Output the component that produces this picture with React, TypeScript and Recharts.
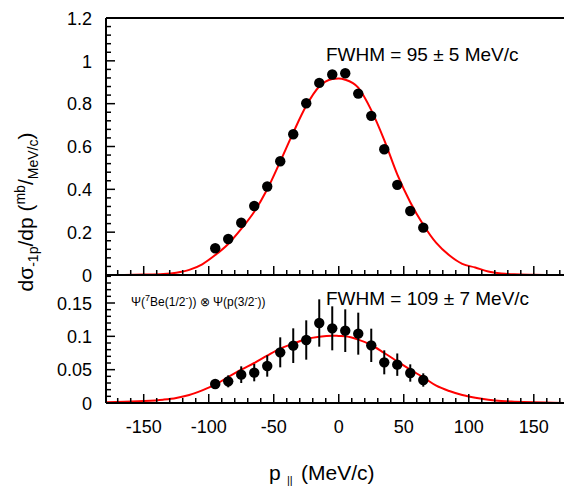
import React from "react";
import { ComposedChart, Line, Scatter, ErrorBar, XAxis, YAxis, ReferenceLine } from "recharts";

// measured momentum points (MeV/c)
const pointX = [-95, -85, -75, -65, -55, -45, -35, -25, -15, -5, 5, 15, 25, 35, 45, 55, 65];
const topValues = [0.125, 0.168, 0.244, 0.322, 0.413, 0.531, 0.657, 0.802, 0.897, 0.936, 0.942, 0.847, 0.743, 0.587, 0.421, 0.299, 0.221];
const bottomValues = [0.0285, 0.0325, 0.0425, 0.0455, 0.0555, 0.076, 0.086, 0.0945, 0.12, 0.112, 0.1085, 0.104, 0.0865, 0.061, 0.0575, 0.045, 0.0345];
const bottomErrors = [0.0075, 0.009, 0.0125, 0.013, 0.016, 0.0225, 0.026, 0.0295, 0.0355, 0.033, 0.032, 0.0315, 0.025, 0.018, 0.0168, 0.013, 0.01];

// calculated curves
const fitX = [-179, -165, -150, -135, -125, -115, -105, -95, -85, -75, -65, -55, -45, -35, -25, -15, -5, 0, 5, 15, 25, 35, 45, 55, 65, 75, 85, 95, 105, 115, 125, 135, 150, 165, 174];
const topFit = [0, 0.0005, 0.002, 0.005, 0.011, 0.024, 0.05, 0.093, 0.145, 0.215, 0.295, 0.4, 0.53, 0.665, 0.79, 0.88, 0.915, 0.918, 0.912, 0.875, 0.77, 0.63, 0.47, 0.34, 0.235, 0.15, 0.092, 0.052, 0.035, 0.016, 0.007, 0.003, 0.001, 0, 0];
const bottomFit = [0.001, 0.002, 0.003, 0.005, 0.0075, 0.012, 0.019, 0.0275, 0.039, 0.05, 0.06, 0.071, 0.0815, 0.089, 0.096, 0.0995, 0.101, 0.1005, 0.1, 0.095, 0.087, 0.075, 0.0625, 0.05, 0.0385, 0.026, 0.018, 0.012, 0.008, 0.005, 0.003, 0.002, 0.001, 0.0005, 0];

const xMajor = [-150, -100, -50, 0, 50, 100, 150];
const xMinor = [-170, -160, -140, -130, -120, -110, -90, -80, -70, -60, -40, -30, -20, -10, 10, 20, 30, 40, 60, 70, 80, 90, 110, 120, 130, 140, 160, 170];
const topYMajor = [0, 0.2, 0.4, 0.6, 0.8, 1, 1.2];
const topYMinor = [0.04, 0.08, 0.12, 0.16, 0.24, 0.28, 0.32, 0.36, 0.44, 0.48, 0.52, 0.56, 0.64, 0.68, 0.72, 0.76, 0.84, 0.88, 0.92, 0.96, 1.04, 1.08, 1.12, 1.16];
const botYMajor = [0, 0.05, 0.1, 0.15];
const botYMinor = [0.01, 0.02, 0.03, 0.04, 0.06, 0.07, 0.08, 0.09, 0.11, 0.12, 0.13, 0.14, 0.16, 0.17, 0.18, 0.19];

const topPoints = pointX.map((x, i) => ({ x, y: topValues[i] }));
const bottomPoints = pointX.map((x, i) => ({ x, y: bottomValues[i], err: bottomErrors[i] }));
const topCurve = fitX.map((x, i) => ({ x, y: topFit[i] }));
const bottomCurve = fitX.map((x, i) => ({ x, y: bottomFit[i] }));

const sorted = (a: number[], b: number[]) => [...a, ...b].sort((p, q) => p - q);
const FONT = "'Liberation Sans', Arial, Helvetica, sans-serif";
const X_DOMAIN: [number, number] = [-179, 174];

function YTick({ x, y, payload, major }: any) {
  const isMajor = major.includes(payload.value);
  return (
    <g>
      <line x1={x} x2={x + (isMajor ? 9 : 5)} y1={y} y2={y} stroke="#000" strokeWidth={1.5} />
      {isMajor && (
        <text x={x - 14} y={y + 6.7} textAnchor="end" fontSize={18} fill="#000" fontFamily={FONT}>
          {payload.value}
        </text>
      )}
    </g>
  );
}

function XTick({ x, y, payload, showLabel }: any) {
  const isMajor = xMajor.includes(payload.value);
  return (
    <g>
      <line x1={x} x2={x} y1={y} y2={y - (isMajor ? 9 : 5)} stroke="#000" strokeWidth={1.5} />
      {showLabel && isMajor && (
        <text x={x} y={y + 30} textAnchor="middle" fontSize={18} fill="#000" fontFamily={FONT}>
          {payload.value}
        </text>
      )}
    </g>
  );
}

const dot = (p: any) => <circle cx={p.cx} cy={p.cy} r={5.2} fill="#000" />;

export default function App() {
  return (
    <div style={{ position: "absolute", left: 0, top: 0, width: 564, height: 489, overflow: "hidden", background: "#fff", fontFamily: FONT }}>
      <div style={{ position: "absolute", left: 0, top: 0 }}>
        <ComposedChart width={565} height={290} margin={{ top: 18, right: 0, bottom: 14, left: 0 }}>
          <XAxis
            dataKey="x"
            type="number"
            domain={X_DOMAIN}
            allowDataOverflow
            ticks={sorted(xMajor, xMinor)}
            interval={0}
            height={1}
            tickSize={0}
            tickMargin={0}
            tickLine={false}
            axisLine={{ stroke: "#000", strokeWidth: 2 }}
            tick={<XTick showLabel={false} />}
          />
          <YAxis
            type="number"
            domain={[0, 1.2]}
            allowDataOverflow
            ticks={sorted(topYMajor, topYMinor)}
            interval={0}
            width={106}
            tickSize={0}
            tickMargin={0}
            tickLine={false}
            axisLine={{ stroke: "#000", strokeWidth: 2 }}
            tick={<YTick major={topYMajor} />}
          />
          <ReferenceLine y={1.2} stroke="#000" strokeWidth={2} />
          <Line data={topCurve} dataKey="y" type="monotone" stroke="#ff0000" strokeWidth={2} dot={false} isAnimationActive={false} />
          <Scatter data={topPoints} dataKey="y" shape={dot} isAnimationActive={false} />
        </ComposedChart>
      </div>
      <div style={{ position: "absolute", left: 0, top: 270 }}>
        <ComposedChart width={565} height={173} margin={{ top: 5, right: 0, bottom: 0, left: 0 }}>
          <XAxis
            dataKey="x"
            type="number"
            domain={X_DOMAIN}
            allowDataOverflow
            ticks={sorted(xMajor, xMinor)}
            interval={0}
            height={40}
            tickSize={0}
            tickMargin={0}
            tickLine={false}
            axisLine={{ stroke: "#000", strokeWidth: 2 }}
            tick={<XTick showLabel />}
          />
          <YAxis
            type="number"
            domain={[0, 0.192]}
            allowDataOverflow
            ticks={sorted(botYMajor, botYMinor)}
            interval={0}
            width={106}
            tickSize={0}
            tickMargin={0}
            tickLine={false}
            axisLine={{ stroke: "#000", strokeWidth: 2 }}
            tick={<YTick major={botYMajor} />}
          />
          <Line data={bottomCurve} dataKey="y" type="monotone" stroke="#ff0000" strokeWidth={2} dot={false} isAnimationActive={false} />
          <Scatter data={bottomPoints} dataKey="y" shape={dot} isAnimationActive={false}>
            <ErrorBar dataKey="err" direction="y" width={0} stroke="#000" strokeWidth={2} />
          </Scatter>
        </ComposedChart>
      </div>
      <svg width={564} height={489} style={{ position: "absolute", left: 0, top: 0, pointerEvents: "none" }}>
        <g fill="#000" fontFamily={FONT}>
          <text x={326} y={61} fontSize={19}>FWHM = 95 ± 5 MeV/c</text>
          <text x={326} y={305} fontSize={19}>FWHM = 109 ± 7 MeV/c</text>
          <text x={131} y={306} fontSize={12}>
            Ψ(<tspan dy={-5} fontSize={9}>7</tspan>
            <tspan dy={5}>Be(1/2</tspan>
            <tspan dy={-5} fontSize={9}>-</tspan>
            <tspan dy={5}>)) ⊗ Ψ(p(3/2</tspan>
            <tspan dy={-5} fontSize={9}>-</tspan>
            <tspan dy={5}>))</tspan>
          </text>
          <text transform="translate(33,212) rotate(-90)" textAnchor="middle" fontSize={21}>
            dσ<tspan dy={5} fontSize={14}>-1p</tspan>
            <tspan dy={-5}>/dp (</tspan>
            <tspan dy={-8} fontSize={14}>mb</tspan>
            <tspan dy={8}>/</tspan>
            <tspan dy={5} fontSize={14}>MeV/c</tspan>
            <tspan dy={-5}>)</tspan>
          </text>
          <text x={269} y={480} fontSize={21}>
            p<tspan x={287} dy={4} fontSize={11}>||</tspan>
            <tspan x={301} dy={-4}>(MeV/c)</tspan>
          </text>
        </g>
      </svg>
    </div>
  );
}
